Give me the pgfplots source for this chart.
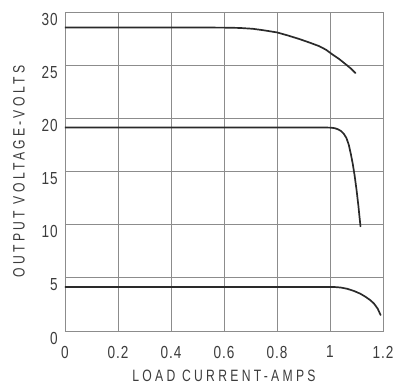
\documentclass[border=0pt]{standalone}
\usepackage{pgfplots}
\pgfplotsset{compat=1.18}
\usepackage{fontspec}
\setmainfont{Liberation Sans}
\newfontfamily\lbl[FakeStretch=0.74,LetterSpace=20]{Liberation Sans}
\newfontfamily\tk[FakeStretch=0.78,LetterSpace=6]{Liberation Sans}
\definecolor{txt}{HTML}{3C3C3C}
\definecolor{gridc}{HTML}{8C8C8C}
\definecolor{curve}{HTML}{2A2A2A}
\begin{document}
\begin{tikzpicture}
\begin{axis}[
  anchor=south west, at={(0,0)},
  scale only axis,
  width=318bp, height=319bp,
  xmin=0, xmax=1.2, ymin=0, ymax=30,
  xtick={0,0.2,0.4,0.6,0.8,1,1.2},
  xticklabels={0,0.2,0.4,0.6,0.8,1,1.2},
  ytick={0,5,10,15,20,25,30},
  yticklabels={0,5,10,15,20,25,30},
  major tick length=0pt,
  grid=major,
  major grid style={gridc, line width=0.8pt},
  axis line style={gridc, line width=0.8pt},
  tick label style={font=\fontsize{17.5}{19}\selectfont\tk, text=txt, inner sep=0pt},
  xticklabel style={anchor=center, yshift=-21bp},
  yticklabel style={anchor=east, xshift=-7bp, yshift=-7bp},
  xlabel={\lbl LOAD CURRENT-AMPS},
  ylabel={\lbl OUTPUT VOLTAGE-VOLTS},
  label style={font=\fontsize{16.5}{18}\selectfont, text=txt, inner sep=0pt},
  xlabel style={at={(axis description cs:0.5,-0.141)}, anchor=center},
  ylabel style={at={(axis description cs:-0.145,0.5)}, anchor=center},
  every axis plot/.append style={line join=round, line cap=round},
]
\addplot[curve, line width=1.7pt] coordinates {
 (0,28.55) (0.4,28.55) (0.6,28.53) (0.66,28.5) (0.709,28.42) (0.75,28.28) (0.8,28.08) (0.84,27.8) (0.884,27.46) (0.92,27.15) (0.959,26.79) (0.985,26.45) (1.009,26.01) (1.035,25.57) (1.059,25.09) (1.078,24.7) (1.096,24.26)};
\addplot[curve, line width=1.7pt] coordinates {
 (0,19.13) (0.5,19.13) (0.99,19.13) (1.005,19.12) (1.018,19.07) (1.03,18.97) (1.042,18.8) (1.052,18.55) (1.062,18.15) (1.071,17.5) (1.079,16.6) (1.086,15.7) (1.093,14.6) (1.1,13.3) (1.107,11.8) (1.115,9.84)};
\addplot[curve, line width=1.7pt] coordinates {
 (0,4.14) (0.5,4.14) (1.0,4.14) (1.02,4.13) (1.04,4.09) (1.065,3.97) (1.091,3.76) (1.115,3.5) (1.135,3.2) (1.152,2.9) (1.166,2.58) (1.18,2.1) (1.191,1.5)};
\end{axis}
\pgfresetboundingbox
\path (-65bp,-53bp) rectangle (328bp,331bp);
\end{tikzpicture}
\end{document}
